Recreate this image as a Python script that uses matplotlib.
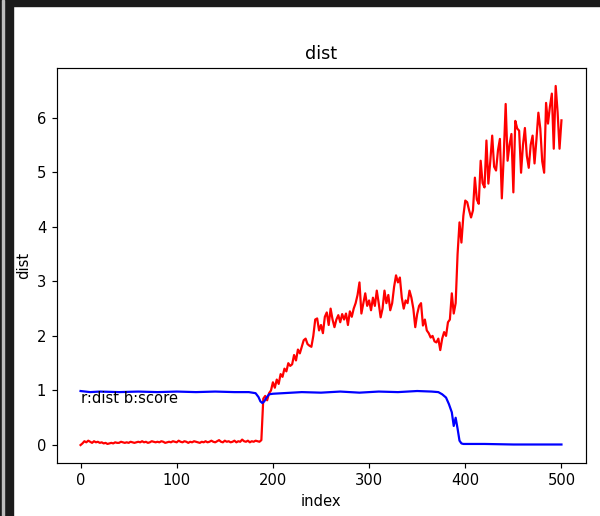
import numpy as np
import matplotlib
matplotlib.use("Agg")
import matplotlib.pyplot as plt
from matplotlib.patches import Rectangle

# red series: dist, sampled every 2 indices from 0 to 500
dist_values = [
    0.00, 0.03, 0.07, 0.05, 0.08, 0.06, 0.04, 0.07, 0.05, 0.06,
    0.04, 0.05, 0.03, 0.04, 0.02, 0.03, 0.04, 0.03, 0.05, 0.04,
    0.04, 0.06, 0.05, 0.04, 0.05, 0.04, 0.06, 0.05, 0.04, 0.05,
    0.06, 0.05, 0.07, 0.05, 0.06, 0.04, 0.05, 0.07, 0.06, 0.05,
    0.06, 0.05, 0.07, 0.06, 0.04, 0.05, 0.06, 0.05, 0.07, 0.06,
    0.05, 0.08, 0.06, 0.05, 0.07, 0.06, 0.04, 0.06, 0.05, 0.07,
    0.06, 0.05, 0.04, 0.06, 0.05, 0.07, 0.05, 0.06, 0.08, 0.06,
    0.05, 0.07, 0.09, 0.06, 0.05, 0.08, 0.06, 0.07, 0.05, 0.06,
    0.08, 0.05, 0.07, 0.06, 0.10, 0.07, 0.06, 0.08, 0.05, 0.07,
    0.06, 0.08, 0.07, 0.06, 0.09,
    0.85, 0.90, 0.82, 0.95, 1.00, 1.15,
    1.05, 1.20, 1.12, 1.30, 1.25, 1.40, 1.35, 1.50, 1.45, 1.48,
    1.65, 1.55, 1.75, 1.68, 1.80, 1.92, 1.95, 1.85, 1.82, 1.80,
    2.00, 2.30, 2.32, 2.10, 2.20, 2.05, 2.35, 2.43, 2.20, 2.50,
    2.30, 2.16, 2.30, 2.38, 2.25, 2.40, 2.30, 2.41, 2.20, 2.45,
    2.35, 2.50, 2.60, 2.75, 2.98, 2.41, 2.60, 2.78, 2.55, 2.65,
    2.47, 2.70, 2.55, 2.83, 2.60, 2.34, 2.50, 2.83, 2.60, 2.75,
    2.47, 2.60, 2.90, 3.11, 2.98, 3.07, 2.70, 2.50, 2.65, 2.60,
    2.83, 2.70, 2.50, 2.16, 2.40, 2.55, 2.60, 2.19, 2.30, 2.10,
    2.05, 1.97, 2.00, 1.90, 1.88, 1.95, 1.74, 1.95, 2.07, 2.00,
    2.25, 2.30, 2.78, 2.41, 2.60, 3.50, 4.08, 3.71, 4.20, 4.48,
    4.45, 4.30, 4.17, 4.30, 4.90, 4.50, 4.42, 5.21, 4.80, 4.72,
    5.58, 4.79, 5.20, 5.67, 5.10, 5.03, 5.40, 5.61, 4.52, 5.30,
    6.25, 5.21, 5.50, 5.70, 4.63, 5.94, 5.80, 5.76, 4.99, 5.50,
    5.81, 5.30, 5.08, 5.50, 5.67, 5.16, 5.60, 6.09, 5.80, 5.20,
    4.99, 6.27, 5.89, 6.20, 6.44, 5.43, 6.58, 6.10, 5.43, 5.95,
]
dist_index = np.arange(0, 501, 2)

# blue series: score
score_index = [0, 10, 20, 40, 60, 80, 100, 120, 140, 160, 175, 182, 185, 187,
               189, 191, 193, 196, 200, 210, 230, 250, 270, 290, 310, 330, 350,
               365, 372, 376, 380, 383, 386, 388, 390, 392, 394, 396, 398, 402,
               420, 450, 480, 500]
score_values = [0.99, 0.97, 0.98, 0.97, 0.98, 0.97, 0.98, 0.97, 0.98, 0.97,
                0.97, 0.95, 0.88, 0.80, 0.77, 0.80, 0.86, 0.93, 0.94, 0.95,
                0.97, 0.96, 0.98, 0.96, 0.98, 0.97, 0.99, 0.98, 0.97, 0.93,
                0.87, 0.75, 0.60, 0.35, 0.50, 0.30, 0.08, 0.03, 0.02, 0.02,
                0.02, 0.01, 0.01, 0.01]

s = 1.06
plt.rcParams["font.size"] = 10 * s

fig = plt.figure(figsize=(6.0, 5.16), dpi=100)
ax = fig.add_axes([56.5 / 600, 53 / 516, 529 / 600, 395 / 516])

ax.plot(dist_index, dist_values, color="red", lw=1.5 * s)
ax.plot(score_index, score_values, color="blue", lw=1.5 * s)
ax.text(0, 0.86, "r:dist b:score", fontsize=10 * s, va="center", ha="left")

ax.set_title("dist", fontsize=12 * s, pad=6 * s)
ax.set_xlabel("index", labelpad=4 * s)
ax.set_ylabel("dist", labelpad=4 * s)
ax.set_xticks([0, 100, 200, 300, 400, 500])
ax.set_yticks([0, 1, 2, 3, 4, 5, 6])
ax.tick_params(length=3.5 * s, width=0.8 * s, pad=3.5 * s)
for sp in ax.spines.values():
    sp.set_linewidth(0.8 * s)

# dark screenshot borders
fig.patches.append(Rectangle((0, 1 - 6 / 516), 1, 6 / 516, transform=fig.transFigure,
                             color="#1b1b1b", zorder=10))
fig.patches.append(Rectangle((0, 0), 13 / 600, 1, transform=fig.transFigure,
                             color="#1b1b1b", zorder=10))
fig.patches.append(Rectangle((2 / 600, 0), 1.5 / 600, 1, transform=fig.transFigure,
                             color="#bdbdbd", zorder=11))

fig.savefig("out.png", dpi=100)
